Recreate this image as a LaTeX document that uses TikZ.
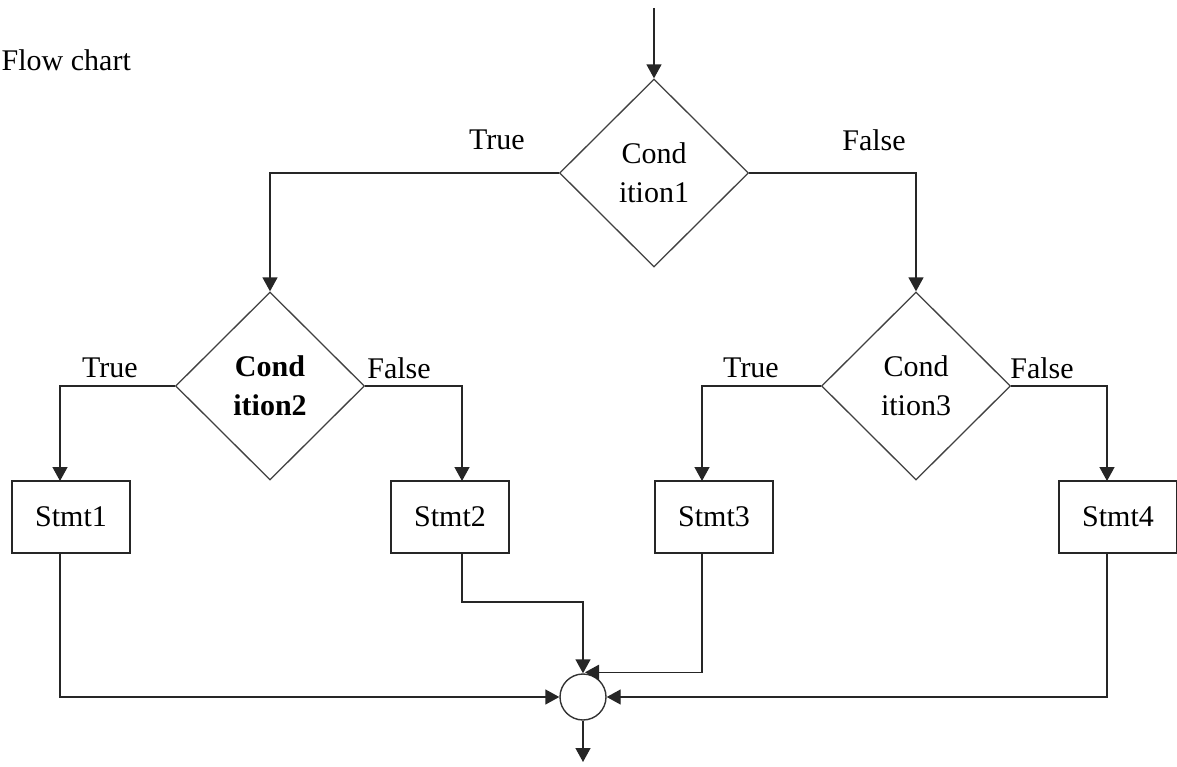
\documentclass[tikz,border=0pt]{standalone}
\usepackage{fontspec}
\setmainfont{Liberation Serif}
\usetikzlibrary{shapes.geometric,arrows.meta,calc}
\begin{document}
\begin{tikzpicture}[x=1pt,y=-1pt,
  font=\fontsize{30}{39}\selectfont,
  line width=1.4pt,
  flow/.style={draw=black!85, -{Triangle[length=14pt,width=15pt]}},
  decision/.style={diamond, draw=black!75, line width=1.3pt, minimum width=189pt, minimum height=188pt, inner sep=0pt, align=center},
  stmtbox/.style={rectangle, draw=black!85, minimum width=118pt, minimum height=72pt, inner sep=0pt},
  junction/.style={circle, draw=black!80, minimum size=46pt, inner sep=0pt},
  branch/.style={inner sep=0pt}]
\useasboundingbox (0,0) rectangle (1177,767);

% title
\node[anchor=west, inner sep=0pt] (title) at (1,60) {Flow chart};

% decisions
\node[decision] (c1) at (654,173) {Cond\\ition1};
\node[decision] (c2) at (270,386) {\bfseries Cond\\\bfseries ition2};
\node[decision] (c3) at (916,386) {Cond\\ition3};

% statements
\node[stmtbox] (s1) at (71,517) {Stmt1};
\node[stmtbox] (s2) at (450,517) {Stmt2};
\node[stmtbox] (s3) at (714,517) {Stmt3};
\node[stmtbox] (s4) at (1118,517) {Stmt4};

% merge point
\node[junction] (m) at (583,697) {};

% entry and exit
\coordinate (in) at (654,8);
\coordinate (out) at (583,762);
\draw[flow] (in) -- (c1.north);
\draw[flow] (m.south) -- (out);

% first decision
\draw[flow] (c1.west) -| (c2.north);
\draw[flow] (c1.east) -| (c3.north);
\node[branch] (t1) at (497,140) {True};
\node[branch] (f1) at (874,140) {False};

% second decision
\coordinate (s1in) at (60,481);
\coordinate (s2in) at (462,481);
\draw[flow] (c2.west) -| (s1in);
\draw[flow] (c2.east) -| (s2in);
\node[branch] (t2) at (110,368) {True};
\node[branch] (f2) at (399,368) {False};

% third decision
\coordinate (s3in) at (702,481);
\coordinate (s4in) at (1107,481);
\draw[flow] (c3.west) -| (s3in);
\draw[flow] (c3.east) -| (s4in);
\node[branch] (t3) at (751,368) {True};
\node[branch] (f3) at (1042,368) {False};

% statements into the merge point
\draw[flow] (60,553) |- (m.west);
\draw[flow] (462,553) |- (583,602) -- (m.north);
\draw[flow] (702,553) |- ($(m.north)+(2,-1)$);
\draw[flow] (1107,553) |- (m.east);
\end{tikzpicture}
\end{document}
